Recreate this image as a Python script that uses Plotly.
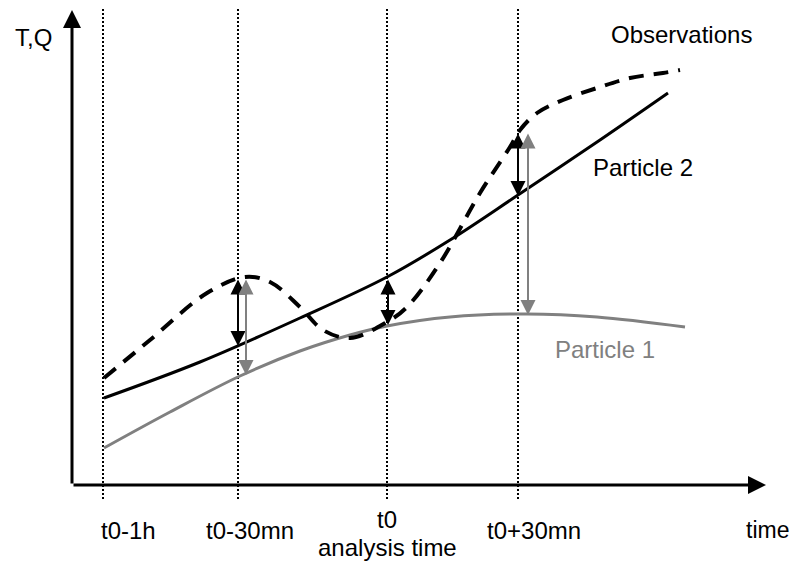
import plotly.graph_objects as go

# ---- data (x: time position, y: T,Q value above the time axis) ----
obs_t = [104, 150, 207, 245, 270, 300, 323, 350, 387, 407, 440, 480, 510, 520, 537, 563, 597, 630, 663, 680]
obs_v = [107, 145, 192, 208, 203, 178, 155, 147, 163, 178, 222, 292, 338, 355, 372, 385, 397, 407, 412, 415]

p2_t = [104, 200, 300, 387, 450, 518, 600, 668]
p2_v = [87, 123, 167, 208, 245, 290, 345, 392]

p1_t = [104, 170, 240, 300, 350, 387, 450, 527, 597, 685]
p1_v = [37, 73, 109, 134, 150, 159, 168, 171, 168, 158]

mark_t = [103, 238, 387, 518]
mark_labels = ["t0-1h", "t0-30mn", "t0", "t0+30mn"]

# error arrows: position, top, bottom, colour
err_t = [238, 246, 388, 518, 528]
err_top = [207, 207, 207, 353, 353]
err_bot = [139, 110, 160, 289, 170]
err_col = ["black", "#808080", "black", "black", "#808080"]

FONT = "Liberation Sans, Arial, sans-serif"

fig = go.Figure()

# dotted time markers
for t in mark_t:
    fig.add_trace(go.Scatter(x=[t, t], y=[-14, 476], mode="lines",
                             line=dict(color="black", width=2, dash="2px,2px"),
                             hoverinfo="skip", showlegend=False))

fig.add_trace(go.Scatter(x=p1_t, y=p1_v, mode="lines", line_shape="spline",
                         line=dict(color="#808080", width=3), showlegend=False))
fig.add_trace(go.Scatter(x=p2_t, y=p2_v, mode="lines", line_shape="spline",
                         line=dict(color="black", width=3), showlegend=False))
fig.add_trace(go.Scatter(x=obs_t, y=obs_v, mode="lines", line_shape="spline",
                         line=dict(color="black", width=4, dash="15px,10px"), showlegend=False))

anns = []
# axes with arrow heads
anns.append(dict(x=766, y=0, ax=72, ay=0, xref="x", yref="y",
                 axref="x", ayref="y", showarrow=True, arrowhead=2, arrowsize=1.2,
                 arrowwidth=3, arrowcolor="black", text=""))
anns.append(dict(x=72, y=475, ax=72, ay=0, xref="x", yref="y",
                 axref="x", ayref="y", showarrow=True, arrowhead=2, arrowsize=1.2,
                 arrowwidth=3, arrowcolor="black", text=""))

# double-headed difference arrows
for t, a, b, c in zip(err_t, err_top, err_bot, err_col):
    anns.append(dict(x=t, y=b, ax=t, ay=a, xref="x", yref="y", axref="x", ayref="y",
                     showarrow=True, arrowhead=2, startarrowhead=2, arrowside="end+start",
                     arrowsize=1.5, startarrowsize=1.5, arrowwidth=2, arrowcolor=c, text=""))

def label(x, y, s, color="black", size=24):
    anns.append(dict(x=x, y=y, xref="x", yref="y", text=s, showarrow=False,
                     font=dict(family=FONT, size=size, color=color)))

label(33, 448, "T,Q")
label(681, 451, "Observations")
label(643, 318, "Particle 2")
label(605, 136, "Particle 1", "#808080")

label_x = [128, 250, 387, 534]
for x, s in zip(label_x, mark_labels):
    if s == "t0":
        label(x, -34, s)
        label(x, -62, "analysis time")
    else:
        label(x, -45, s)
label(767, -45, "time", size=23)

# page body has an 8px margin: shrink and shift the figure so nothing scrolls
fig.update_layout(
    width=782, height=553,
    margin=dict(l=0, r=0, t=0, b=0),
    paper_bgcolor="white", plot_bgcolor="white",
    xaxis=dict(range=[8, 790], visible=False, fixedrange=True),
    yaxis=dict(range=[-76, 477], visible=False, fixedrange=True),
    annotations=anns,
    showlegend=False,
)

fig.write_html("out.html")
